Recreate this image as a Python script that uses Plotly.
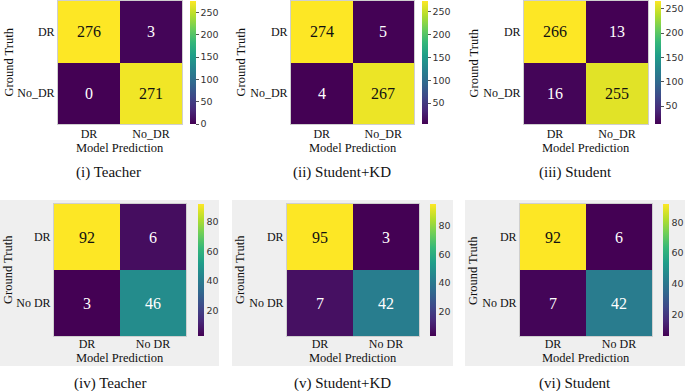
import plotly.graph_objects as go

W, H = 685, 391

# ---- data ----
labels_top = ["DR", "No_DR"]
labels_bottom = ["DR", "No DR"]
teacher_a = [[276, 3], [0, 271]]
student_kd_a = [[274, 5], [4, 267]]
student_a = [[266, 13], [16, 255]]
teacher_b = [[92, 6], [3, 46]]
student_kd_b = [[95, 3], [7, 42]]
student_b = [[92, 6], [7, 42]]
captions = ["(i) Teacher", "(ii) Student+KD", "(iii) Student",
            "(iv) Teacher", "(v) Student+KD", "(vi) Student"]
cb_ticks_top = [[0, 50, 100, 150, 200, 250], [50, 100, 150, 200, 250], [50, 100, 150, 200, 250]]
cb_ticks_bottom = [20, 40, 60, 80]

# ---- layout (pixels) ----
panels = [
    dict(z=teacher_a, lab=labels_top, hx=(58, 182), hy=(1, 124), cbx=190, gtx=8, mpy=147.5, capy=172, capx=108, ticks=cb_ticks_top[0], top=True),
    dict(z=student_kd_a, lab=labels_top, hx=(291, 414), hy=(1, 124), cbx=422, gtx=240, mpy=147.5, capy=172, capx=342, ticks=cb_ticks_top[1], top=True),
    dict(z=student_a, lab=labels_top, hx=(524, 648), hy=(1, 124), cbx=655, gtx=473, mpy=147.5, capy=172, capx=575, ticks=cb_ticks_top[2], top=True),
    dict(z=teacher_b, lab=labels_bottom, hx=(54, 186), hy=(204, 336), cbx=198, gtx=8, mpy=358, capy=383, capx=110, ticks=cb_ticks_bottom, top=False),
    dict(z=student_kd_b, lab=labels_bottom, hx=(287, 419), hy=(204, 336), cbx=430, gtx=240, mpy=358, capy=383, capx=342, ticks=cb_ticks_bottom, top=False),
    dict(z=student_b, lab=labels_bottom, hx=(520, 652), hy=(204, 336), cbx=663, gtx=473, mpy=358, capy=383, capx=575, ticks=cb_ticks_bottom, top=False),
]
gray_boxes = [(0, 219), (232, 453), (465, 685)]

def fx(px):
    return px / W

def fy(py):
    return 1 - py / H

SERIF = "Liberation Serif, Times New Roman, serif"
SANS = "DejaVu Sans, Arial, sans-serif"

fig = go.Figure()
layout = dict(
    width=W, height=H, margin=dict(l=0, r=0, t=0, b=0),
    paper_bgcolor="white", plot_bgcolor="white", showlegend=False,
    shapes=[], annotations=[],
)

for (x0, x1) in gray_boxes:
    layout["shapes"].append(dict(type="rect", xref="paper", yref="paper",
                                 x0=fx(x0), x1=fx(x1), y0=fy(366), y1=fy(200),
                                 fillcolor="#efefef", line_width=0, layer="below"))

for i, p in enumerate(panels):
    n = i + 1
    xa = "x" if n == 1 else f"x{n}"
    ya = "y" if n == 1 else f"y{n}"
    ca = "coloraxis" if n == 1 else f"coloraxis{n}"
    z = p["z"]
    flat = [v for row in z for v in row]
    zmin, zmax = min(flat), max(flat)
    fig.add_trace(go.Heatmap(z=z, x=p["lab"], y=p["lab"], xaxis=xa, yaxis=ya,
                             coloraxis=ca, xgap=0, ygap=0, hoverinfo="skip"))
    hy0, hy1 = p["hy"]
    layout[ca] = dict(
        colorscale="Viridis", cmin=zmin, cmax=zmax,
        colorbar=dict(
            x=fx(p["cbx"]), xanchor="left", xref="paper",
            y=fy((hy0 + hy1) / 2), yanchor="middle",
            len=(hy1 - hy0) / H, lenmode="fraction",
            thickness=6, thicknessmode="pixels", outlinewidth=0,
            tickvals=p["ticks"], ticks="outside" if p["top"] else "",
            ticklen=3, tickwidth=1, tickcolor="#555",
            tickfont=dict(family=SANS, size=9.5, color="#333"),
            ypad=0, xpad=0,
        ),
    )
    axkey_x = "xaxis" if n == 1 else f"xaxis{n}"
    axkey_y = "yaxis" if n == 1 else f"yaxis{n}"
    layout[axkey_x] = dict(domain=[fx(p["hx"][0]), fx(p["hx"][1])], anchor=ya,
                           showgrid=False, zeroline=False, ticks="", ticklen=0,
                           ticklabelstandoff=-1 if p["top"] else -3,
                           tickfont=dict(family=SERIF, size=12, color="#111"),
                           showline=True, linecolor="#cfcfcf", mirror=True, linewidth=1,
                           fixedrange=True)
    layout[axkey_y] = dict(domain=[fy(hy1), fy(hy0)], anchor=xa, autorange="reversed",
                           showgrid=False, zeroline=False, ticks="", ticklen=0,
                           tickfont=dict(family=SERIF, size=12, color="#111"),
                           showline=True, linecolor="#cfcfcf", mirror=True, linewidth=1,
                           fixedrange=True)
    # cell values
    for r, rl in enumerate(p["lab"]):
        for c, cl in enumerate(p["lab"]):
            v = z[r][c]
            t = (v - zmin) / (zmax - zmin)
            layout["annotations"].append(dict(
                x=cl, y=rl, xref=xa, yref=ya, text=str(v), showarrow=False,
                font=dict(family=SERIF, size=16, color="#111" if t > 0.7 else "white")))
    # axis titles
    layout["annotations"].append(dict(
        x=(p["hx"][0] + p["hx"][1]) / 2 / W, y=fy(p["mpy"]), xref="paper", yref="paper",
        text="Model Prediction", showarrow=False, xanchor="center", yanchor="middle",
        font=dict(family=SERIF, size=12.5, color="#111")))
    layout["annotations"].append(dict(
        x=fx(p["gtx"]), y=fy((hy0 + hy1) / 2), xref="paper", yref="paper",
        text="Ground Truth", showarrow=False, textangle=-90, xanchor="center", yanchor="middle",
        font=dict(family=SERIF, size=12.5, color="#111")))
    layout["annotations"].append(dict(
        x=fx(p["capx"]), y=fy(p["capy"]), xref="paper", yref="paper",
        text=captions[i], showarrow=False, xanchor="center", yanchor="middle",
        font=dict(family=SERIF, size=15, color="#111")))

fig.update_layout(**layout)
fig.write_html("out.html", config={"displayModeBar": False},
               post_script="document.body.style.margin='0';")
